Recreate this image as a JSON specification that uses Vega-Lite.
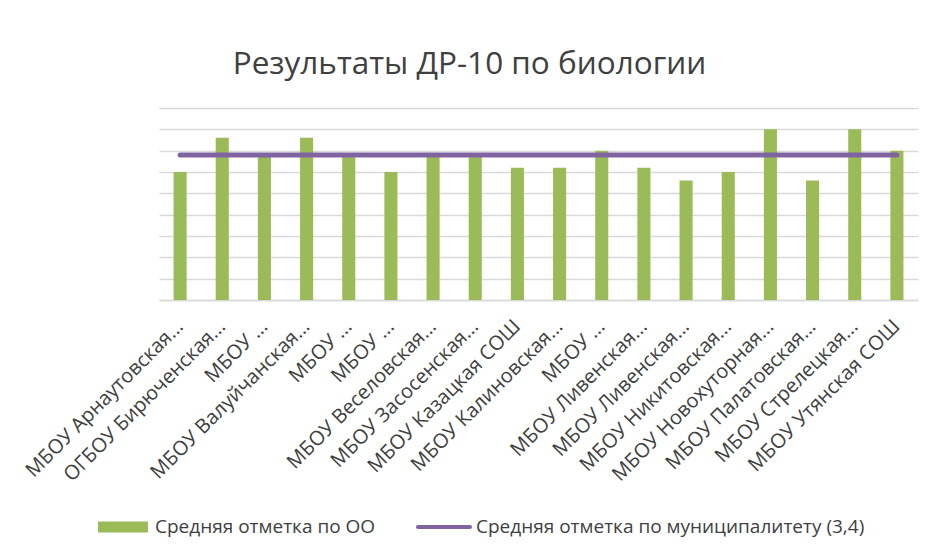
{
  "$schema": "https://vega.github.io/schema/vega-lite/v6.json",
  "width": 759,
  "height": 192,
  "autosize": {"type": "none"},
  "padding": {"left": 159, "top": 108, "right": 13, "bottom": 255},
  "background": "white",
  "config": {"view": {"stroke": null}, "font": "Open Sans"},
  "title": {
    "text": "Результаты ДР-10 по биологии",
    "fontSize": 31.5,
    "font": "Open Sans",
    "fontWeight": "normal",
    "color": "#404040",
    "anchor": "middle",
    "dx": -69,
    "offset": 3,
    "baseline": "alphabetic"
  },
  "data": {
    "values": [
      {"label": "01|МБОУ Арнаутовская...", "score": 3.0, "municipal": 3.4},
      {"label": "02|ОГБОУ Бирюченская...", "score": 3.8, "municipal": 3.4},
      {"label": "03|МБОУ ...", "score": 3.4, "municipal": 3.4},
      {"label": "04|МБОУ Валуйчанская...", "score": 3.8, "municipal": 3.4},
      {"label": "05|МБОУ ...", "score": 3.4, "municipal": 3.4},
      {"label": "06|МБОУ ...", "score": 3.0, "municipal": 3.4},
      {"label": "07|МБОУ Веселовская...", "score": 3.4, "municipal": 3.4},
      {"label": "08|МБОУ Засосенская...", "score": 3.4, "municipal": 3.4},
      {"label": "09|МБОУ Казацкая СОШ", "score": 3.1, "municipal": 3.4},
      {"label": "10|МБОУ Калиновская...", "score": 3.1, "municipal": 3.4},
      {"label": "11|МБОУ ...", "score": 3.5, "municipal": 3.4},
      {"label": "12|МБОУ Ливенская...", "score": 3.1, "municipal": 3.4},
      {"label": "13|МБОУ Ливенская...", "score": 2.8, "municipal": 3.4},
      {"label": "14|МБОУ Никитовская...", "score": 3.0, "municipal": 3.4},
      {"label": "15|МБОУ Новохуторная...", "score": 4.0, "municipal": 3.4},
      {"label": "16|МБОУ Палатовская...", "score": 2.8, "municipal": 3.4},
      {"label": "17|МБОУ Стрелецкая...", "score": 4.0, "municipal": 3.4},
      {"label": "18|МБОУ Утянская СОШ", "score": 3.5, "municipal": 3.4}
    ]
  },
  "encoding": {
    "x": {
      "field": "label",
      "type": "nominal",
      "sort": null,
      "scale": {"paddingInner": 0.69, "paddingOuter": 0.345},
      "axis": {
        "title": null,
        "labelAngle": -45,
        "labelAlign": "right",
        "labelBaseline": "middle",
        "labelExpr": "split(datum.label, '|')[1]",
        "ticks": false,
        "domainColor": "#d9d9d9",
        "domainWidth": 1.3,
        "labelFontSize": 20,
        "labelColor": "#404040",
        "labelPadding": 23,
        "labelLimit": 0
      }
    }
  },
  "layer": [
    {
      "mark": {"type": "bar"},
      "encoding": {
        "y": {
          "field": "score",
          "type": "quantitative",
          "scale": {"domain": [0, 4.5], "nice": false},
          "axis": {
            "title": null,
            "labels": false,
            "ticks": false,
            "domain": false,
            "grid": true,
            "gridColor": "#d9d9d9",
            "gridWidth": 1.3,
            "values": [0, 0.5, 1, 1.5, 2, 2.5, 3, 3.5, 4, 4.5]
          }
        },
        "color": {
          "datum": "Средняя отметка по ОО",
          "type": "nominal",
          "scale": {
            "domain": ["Средняя отметка по ОО", "Средняя отметка по муниципалитету (3,4)"],
            "range": ["#9BBB59", "#8064A2"]
          },
          "legend": {
            "orient": "none",
            "legendX": -61,
            "legendY": 394,
            "direction": "horizontal",
            "title": null,
            "labelFontSize": 19,
            "labelColor": "#404040",
            "symbolSize": 2500,
            "labelOffset": 7,
            "columnPadding": 40,
            "labelLimit": 0,
            "encode": {
              "symbols": {
                "update": {
                  "shape": {"signal": "datum.index === 0 ? 'M-1,-0.22H1V0.22H-1Z' : 'M-1.04,-0.08H1.04A0.08,0.08 0 0 1 1.04,0.08H-1.04A0.08,0.08 0 0 1 -1.04,-0.08Z'"},
                  "fill": {"scale": "color", "field": "value"},
                  "stroke": {"value": "transparent"},
                  "strokeWidth": {"value": 0},
                  "size": {"value": 2500},
                  "opacity": {"value": 1}
                }
              }
            }
          }
        }
      }
    },
    {
      "mark": {"type": "line", "strokeWidth": 5, "strokeCap": "round"},
      "encoding": {
        "y": {
          "field": "municipal",
          "type": "quantitative",
          "axis": {
            "title": null,
            "labels": false,
            "ticks": false,
            "domain": false,
            "grid": true,
            "gridColor": "#d9d9d9",
            "gridWidth": 1.3,
            "values": [0, 0.5, 1, 1.5, 2, 2.5, 3, 3.5, 4, 4.5]
          }
        },
        "color": {"datum": "Средняя отметка по муниципалитету (3,4)", "type": "nominal"}
      }
    }
  ]
}
